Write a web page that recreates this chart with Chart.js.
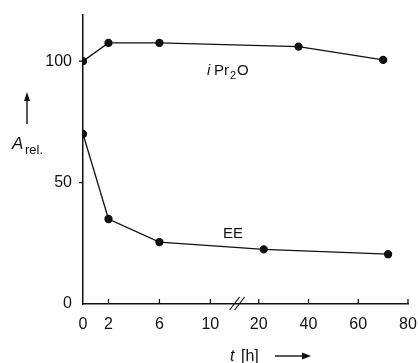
<!DOCTYPE html>
<html>
<head>
<meta charset="utf-8">
<script src="https://cdn.jsdelivr.net/npm/chart.js@4"></script>
<style>
  html, body { margin: 0; padding: 0; background: #fff; }
  #wrap { width: 418px; height: 363px; }
</style>
</head>
<body>
<div id="wrap"><canvas id="myChart" width="418" height="363"></canvas></div>
<script>
// data
var hoursIPr = [0, 2, 6, 36, 70];
var valuesIPr = [100, 107.5, 107.5, 106, 100.5];
var hoursEE = [0, 2, 6, 22, 72];
var valuesEE = [70, 35, 25.5, 22.5, 20.5];
var xTickHours = [0, 2, 6, 10, 20, 40, 60, 80];
var yTicks = [0, 50, 100];

var FONT = '"Liberation Sans", Arial, sans-serif';

// broken time axis: 0..12 h linear, then compressed from 20 h on
function axisPos(t) {
    if (t <= 12) {
        return t;
    }
    return 13.8 + (t - 20) * 0.1953;
}

function toPoints(hours, values) {
    var pts = [];
    hours.forEach(function (h, i) {
        pts.push({ x: axisPos(h), y: values[i] });
    });
    return pts;
}

var annotations = {
    id: 'annotations',
    afterDraw: function (chart) {
        var ctx = chart.ctx;
        var xs = chart.scales.x;
        var ys = chart.scales.y;
        var bottom = ys.getPixelForValue(0);
        ctx.save();
        ctx.strokeStyle = '#111';
        ctx.fillStyle = '#111';
        ctx.lineWidth = 1.3;

        // inward x ticks
        xTickHours.forEach(function (h) {
            if (h === 0) return;
            var px = xs.getPixelForValue(axisPos(h));
            ctx.beginPath();
            ctx.moveTo(px, bottom);
            ctx.lineTo(px, bottom - 5);
            ctx.stroke();
        });
        // small outward y ticks
        yTicks.forEach(function (v) {
            if (v === 0) return;
            var py = ys.getPixelForValue(v);
            ctx.beginPath();
            ctx.moveTo(xs.left, py);
            ctx.lineTo(xs.left - 4, py);
            ctx.stroke();
        });

        // axis break marks
        var bx = xs.getPixelForValue(12.1);
        ctx.lineWidth = 1.2;
        [-2.5, 2.5].forEach(function (off) {
            ctx.beginPath();
            ctx.moveTo(bx + off - 5, bottom + 6);
            ctx.lineTo(bx + off + 5, bottom - 7);
            ctx.stroke();
        });

        // series labels
        ctx.textBaseline = 'alphabetic';
        ctx.font = 'italic 15px ' + FONT;
        ctx.fillText('i', 207, 75);
        ctx.font = '15px ' + FONT;
        ctx.fillText('Pr', 214, 75);
        ctx.font = '11px ' + FONT;
        ctx.fillText('2', 230, 79);
        ctx.font = '15px ' + FONT;
        ctx.fillText('O', 237, 75);
        ctx.fillText('EE', 223, 238);

        // y label with arrow
        ctx.font = 'italic 17px ' + FONT;
        ctx.fillText('A', 12, 149);
        ctx.font = '13px ' + FONT;
        ctx.fillText('rel.', 25, 154);
        ctx.lineWidth = 1.4;
        ctx.beginPath();
        ctx.moveTo(27, 124);
        ctx.lineTo(27, 98);
        ctx.stroke();
        ctx.beginPath();
        ctx.moveTo(27, 92);
        ctx.lineTo(24, 101);
        ctx.lineTo(30, 101);
        ctx.closePath();
        ctx.fill();

        // x label with arrow
        ctx.font = 'italic 16px ' + FONT;
        ctx.fillText('t', 230, 361);
        ctx.font = '16px ' + FONT;
        ctx.fillText('[h]', 241, 361);
        ctx.beginPath();
        ctx.moveTo(275, 356);
        ctx.lineTo(303, 356);
        ctx.stroke();
        ctx.beginPath();
        ctx.moveTo(311, 356);
        ctx.lineTo(302, 352.5);
        ctx.lineTo(302, 359.5);
        ctx.closePath();
        ctx.fill();

        ctx.restore();
    }
};

var seriesStyle = {
    showLine: true,
    borderColor: '#111',
    backgroundColor: '#111',
    borderWidth: 1.3,
    pointRadius: 3.5,
    pointHoverRadius: 3.5,
    tension: 0
};

var ctx = document.getElementById('myChart').getContext('2d');
var myChart = new Chart(ctx, {
    type: 'scatter',
    data: {
        datasets: [
            Object.assign({ label: 'iPr2O', data: toPoints(hoursIPr, valuesIPr) }, seriesStyle),
            Object.assign({ label: 'EE', data: toPoints(hoursEE, valuesEE) }, seriesStyle)
        ]
    },
    options: {
        responsive: false,
        animation: false,
        layout: { padding: { top: 15, right: 10, left: 0, bottom: 0 } },
        plugins: {
            legend: { display: false },
            tooltip: { enabled: false }
        },
        scales: {
            x: {
                type: 'linear',
                min: 0,
                max: axisPos(80),
                grid: { display: false, drawTicks: false },
                border: { display: true, color: '#111', width: 1.5 },
                afterBuildTicks: function (scale) {
                    scale.ticks = xTickHours.map(function (h) { return { value: axisPos(h) }; });
                },
                afterFit: function (scale) {
                    scale.height = 59;
                    scale.paddingLeft = 0;
                    scale.paddingRight = 0;
                },
                ticks: {
                    autoSkip: false,
                    maxRotation: 0,
                    padding: 11,
                    color: '#111',
                    font: { family: FONT, size: 16 },
                    callback: function (value, index) { return xTickHours[index]; }
                }
            },
            y: {
                min: 0,
                max: 119,
                grid: { display: false, drawTicks: false },
                border: { display: true, color: '#111', width: 1.5 },
                afterBuildTicks: function (scale) {
                    scale.ticks = yTicks.map(function (v) { return { value: v }; });
                },
                afterFit: function (scale) {
                    scale.width = 83;
                    scale.paddingTop = 0;
                    scale.paddingBottom = 0;
                },
                ticks: {
                    padding: 11,
                    color: '#111',
                    font: { family: FONT, size: 16 }
                }
            }
        }
    },
    plugins: [annotations]
});
</script>
</body>
</html>
